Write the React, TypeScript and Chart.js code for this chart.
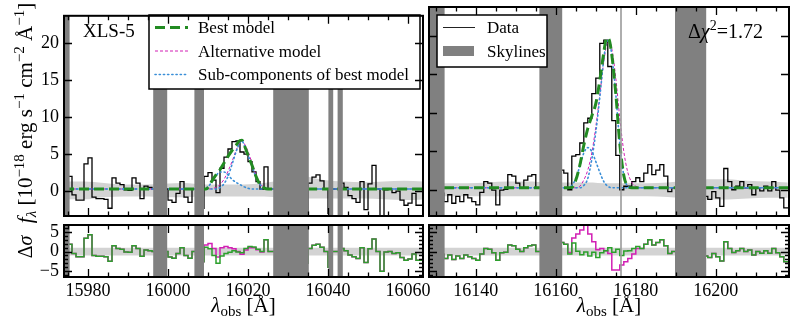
import React, { useEffect, useRef } from 'react';
import { Chart, registerables } from 'chart.js';
Chart.register(...registerables);

const FONT = '"Liberation Serif", "Times New Roman", serif';

// ---------- axes ----------
const LEFT_X_RANGE = [15974, 16063.75];
const RIGHT_X_RANGE = [16128.3, 16218.3];
const FLUX_Y_RANGE = [-3.35, 23.7];
const RESID_Y_RANGE = [-6.5, 6.8];
const X_LABEL_STEP = 20;
const X_MINOR_STEP = 5;
const Y_MAJOR_STEP = 5;
const Y_RESID_MINOR_STEP = 1;

// ---------- data (1 Å bins, left edges) ----------
const BIN_WIDTH = 1;
const LEFT_BIN_START = 15974;
const RIGHT_BIN_START = 16128;

const LEFT_FLUX = [
  0.2, 0.2, 2.0, -0.5, -1.2, -1.2, 3.7, 4.5, -0.8, -1.0,
  -1.0, -1.1, -2.3, 1.8, 1.1, 0.9, 0.2, 0.1, 1.8, 1.1,
  -1.0, 0.7, 0.5, 0.3, 0.3, 0.3, 0.3, -1.2, -1.5, -0.3,
  1.3, -0.8, -1.5, 0.3, 0.3, -2.3, 2.0, 2.5, 1.5, -0.2,
  3.1, 4.6, 5.7, 6.7, 6.8, 5.3, 5.0, 4.0, 2.6, 1.3,
  0.3, 3.3, 0.3, 0.3, 0.3, 0.3, 0.3, 0.3, 0.3, 0.3,
  0.3, -2.8, 1.1, 1.9, 2.2, 1.4, 0.3, -3.0, 0.3, 0.3,
  1.1, 0.5, -0.6, -1.0, -1.5, 1.3, -2.5, 1.0, 3.5, 0.3,
  -4.5, 0.2, 0.3, -0.2, 0.0, -1.2, -1.9, -1.6, -0.3, -1.9,
];

const RIGHT_FLUX = [
  0.3, 0.3, 0.3, 0.3, -0.4, -1.5, -0.6, -1.7, -0.8, -1.5,
  -0.6, -1.0, -1.5, -1.9, -0.3, 1.1, 0.9, 0.0, -1.9, 0.0,
  0.1, 2.0, 1.8, 0.9, 0.3, 1.3, 1.8, 2.0, 0.3, 0.3,
  0.3, 0.3, 0.3, 0.3, 2.6, 2.2, 0.05, 4.4, 4.6, 6.1,
  8.7, 9.3, 12.5, 14.5, 19.0, 19.4, 16.0, 9.0, 4.5, 0.05,
  0.5, 0.5, 1.1, 1.6, 1.1, 2.2, 3.3, 2.0, 2.6, 3.3,
  1.8, -0.2, 0.3, 0.3, 0.3, 0.3, 0.3, 0.3, 0.3, 0.3,
  -0.8, -1.2, -0.2, -1.0, -2.1, 2.8, 1.1, 0.05, 0.5, 1.1,
  0.3, 0.7, -0.6, 0.3, -0.1, 0.5, -0.1, 1.1, 0.0, -1.0,
  -2.3,
];

// residuals (Δσ) of best model, same bins
const LEFT_RESID_BEST = [
  -0.1, 0.5, 1.9, -0.5, -1.3, -1.3, 3.4, 4.3, -1.0, -1.2,
  -1.2, -1.3, -2.5, 1.5, 0.8, 0.6, -0.1, -0.2, 1.5, 0.8,
  -1.2, 0.4, 0.2, 0, 0, 0, 0.0, -1.4, -1.7, -0.5,
  1.0, -1.0, -1.7, 0, 0, -2.6, 1.1, 0.7, -1.0, -3.0,
  -1.1, -0.5, -0.2, 0.2, -0.1, -0.3, 0.8, 1.3, 1.2, 0.6,
  0.0, 3.0, 0, 0, 0, 0, 0, 0, 0, 0,
  0, -3.0, 0.8, 1.6, 1.9, 1.1, 0, -4.0, 0, 0,
  0.8, 0.2, -0.9, -1.3, -1.8, 1.0, -2.8, 0.7, 3.2, 0.0,
  -5.0, -0.1, 0.0, -0.5, -0.3, -1.5, -2.2, -1.9, -0.6, -2.2,
];

const RIGHT_RESID_BEST = [
  0, 0, 0, 0, -0.7, -1.8, -0.9, -2.0, -1.1, -1.8,
  -0.9, -1.3, -1.8, -2.2, -0.6, 0.8, 0.6, -0.3, -2.2, -0.3,
  -0.2, 1.7, 1.5, 0.6, 0.0, 1.0, 1.5, 1.7, 0, 0,
  0, 0, 0, 0, 2.3, 1.9, -0.6, 2.2, 0.1, -0.8,
  -0.1, -1.1, -0.2, -1.5, -0.3, 0.2, 1.0, -0.2, 0.6, -1.0,
  0.15, 0.2, 0.8, 1.3, 0.8, 1.9, 3.0, 1.7, 2.3, 3.0,
  1.5, -0.5, 0, 0, 0, 0, 0, 0, 0, 0,
  -1.1, -1.5, -0.5, -1.3, -2.4, 2.5, 0.8, -0.25, 0.2, 0.8,
  0.0, 0.4, -0.9, 0.0, -0.4, 0.2, -0.4, 0.8, -0.3, -1.3,
  -2.6,
];

// residuals of alternative model where they differ from the best-model residuals
const LEFT_RESID_ALT_FROM = 16010;
const LEFT_RESID_ALT = [1.7, 2.1, 0.8, -1.4, 1.0, 1.3, 1.0, 0.7, 0.0, -0.7, 0.4, 1.0, 1.0, 0.5, -0.1];
const RIGHT_RESID_ALT_FROM = 16164;
const RIGHT_RESID_ALT = [-0.25, 3.5, 4.5, 5.5, 6.8, 4.5, 2.5, 0.5, 0.8, 0.2, -0.5, -4.7, -4.7, -3.4, -2.6, -1.8, -0.6, 0.8];

// ---------- models ----------
const LEFT_BEST_X = [15974, 16009.5, 16010, 16011, 16012, 16013, 16014, 16015, 16016, 16017, 16018, 16018.5, 16019, 16020, 16021, 16022, 16023, 16024, 16025, 16064];
const LEFT_BEST_Y = [0.3, 0.3, 0.5, 1.4, 2.2, 2.9, 3.8, 4.7, 5.5, 6.2, 6.85, 6.9, 6.3, 4.9, 3.5, 2.0, 0.9, 0.45, 0.3, 0.3];
const LEFT_ALT_X = [15974, 16010.5, 16011, 16012, 16013, 16014, 16015, 16016, 16017, 16018, 16018.5, 16019, 16020, 16021, 16022, 16023, 16024, 16025, 16064];
const LEFT_ALT_Y = [0.3, 0.3, 0.35, 0.5, 0.9, 1.6, 2.7, 4.0, 5.5, 6.6, 6.8, 6.5, 5.4, 3.8, 2.2, 1.1, 0.5, 0.3, 0.3];
const LEFT_COMP1_X = [15974, 16012, 16013, 16014, 16015, 16016, 16017, 16018, 16018.5, 16019, 16020, 16021, 16022, 16023, 16024, 16025, 16064];
const LEFT_COMP1_Y = [0.3, 0.3, 0.5, 1.0, 2.0, 3.6, 5.3, 6.6, 6.8, 6.3, 4.9, 3.4, 1.9, 0.9, 0.45, 0.3, 0.3];
const LEFT_COMP2_X = [15974, 16009, 16010, 16011, 16012, 16013, 16014, 16015, 16016, 16017, 16018, 16019, 16020, 16021, 16064];
const LEFT_COMP2_Y = [0.3, 0.3, 0.6, 1.3, 2.1, 2.6, 2.6, 2.2, 1.6, 1.2, 0.9, 0.6, 0.4, 0.3, 0.3];

const RIGHT_BEST_X = [16128.3, 16163, 16164, 16165, 16166, 16167, 16168, 16169, 16170, 16171, 16172, 16172.7, 16173.3, 16174, 16175, 16176, 16177, 16178, 16179, 16218.3];
const RIGHT_BEST_Y = [0.3, 0.3, 0.35, 1.3, 3.2, 5.8, 8.0, 9.6, 11.2, 14.2, 17.8, 19.7, 19.5, 17.5, 12.5, 6.0, 1.9, 0.5, 0.3, 0.3];
const RIGHT_ALT_X = [16128.3, 16165, 16166, 16167, 16168, 16169, 16170, 16171, 16172, 16173, 16173.3, 16174, 16175, 16176, 16177, 16178, 16179, 16180, 16181, 16218.3];
const RIGHT_ALT_Y = [0.3, 0.3, 0.5, 1.3, 2.6, 4.8, 8.2, 12.3, 16.6, 19.3, 19.35, 18.3, 14.5, 9.3, 5.0, 2.3, 1.0, 0.5, 0.3, 0.3];
const RIGHT_COMP1_X = [16128.3, 16166, 16167, 16168, 16169, 16170, 16171, 16172, 16172.7, 16173.3, 16174, 16175, 16176, 16177, 16178, 16179, 16218.3];
const RIGHT_COMP1_Y = [0.3, 0.3, 0.6, 1.5, 4.0, 7.5, 12.0, 17.0, 19.2, 19.4, 17.4, 12.4, 6.0, 1.9, 0.5, 0.3, 0.3];
const RIGHT_COMP2_X = [16128.3, 16163, 16164, 16165, 16166, 16167, 16168, 16169, 16170, 16171, 16172, 16173, 16174, 16218.3];
const RIGHT_COMP2_Y = [0.3, 0.3, 0.6, 1.5, 3.1, 4.8, 5.5, 5.0, 3.7, 2.3, 1.1, 0.5, 0.3, 0.3];

// ---------- noise envelopes ----------
const LEFT_NOISE_X = [15974, 15979, 15984, 15989, 15994, 15999, 16004, 16009, 16014, 16019, 16024, 16029, 16034, 16039, 16044, 16049, 16054, 16059, 16064];
const LEFT_NOISE_HI = [1.3, 1.3, 1.1, 0.9, 0.9, 1.0, 1.1, 0.9, 0.9, 0.9, 1.1, 1.5, 2.0, 1.5, 1.3, 1.2, 1.3, 1.4, 1.3];
const LEFT_NOISE_LO = [-1.1, -1.1, -0.8, -0.7, -0.7, -0.8, -0.8, -0.7, -0.7, -0.7, -0.7, -0.9, -1.0, -1.0, -1.0, -1.0, -1.1, -1.2, -1.1];
const RIGHT_NOISE_X = [16128, 16133, 16138, 16143, 16148, 16153, 16158, 16163, 16168, 16173, 16178, 16183, 16188, 16193, 16198, 16203, 16208, 16213, 16218];
const RIGHT_NOISE_HI = [0.9, 0.9, 0.9, 1.0, 1.1, 1.1, 1.0, 1.0, 1.0, 0.9, 0.9, 0.9, 1.0, 1.2, 1.4, 1.4, 1.2, 1.1, 1.0];
const RIGHT_NOISE_LO = [-0.8, -0.8, -0.8, -0.8, -0.8, -0.8, -0.8, -0.8, -0.8, -0.8, -0.8, -0.8, -0.9, -1.1, -1.2, -1.2, -1.1, -1.0, -1.0];
const RESID_BAND = [-1, 1];

// ---------- skylines ----------
const LEFT_SKYLINES = [[15973.5, 15975.4], [15996.3, 15999.8], [16006.6, 16009.0], [16026.3, 16035.2], [16040.1, 16041.3], [16042.4, 16043.7]];
const RIGHT_SKYLINES = [[16127.5, 16132.2], [16155.9, 16161.6], [16189.8, 16197.6]];
const RIGHT_THIN_SKYLINES = [16176.3];

// ---------- text ----------
const LEGEND_LEFT = ['Best model', 'Alternative model', 'Sub-components of best model'];
const LEGEND_RIGHT = ['Data', 'Skylines'];
const OBJECT_NAME = 'XLS-5';
const DELTA_CHI2 = '1.72';

// ---------- colours ----------
const SKY = '#808080';
const THIN_SKY = '#9a9a9a';
const NOISE = '#d3d3d3';
const GREEN = '#228b22';
const MAGENTA = '#d21fb4';
const BLUE = '#3a8fd8';
const RES_GREEN = '#2ca02c';

type Seg = { t: string; size: number; italic?: boolean; dy?: number };
const fontOf = (s: Seg) => `${s.italic ? 'italic ' : ''}${s.size}px ${FONT}`;

function drawRich(ctx: CanvasRenderingContext2D, segs: Seg[], x: number, y: number, align: 'left' | 'center', rot = 0) {
  ctx.save();
  ctx.translate(x, y);
  if (rot) ctx.rotate(rot);
  ctx.textBaseline = 'alphabetic';
  ctx.textAlign = 'left';
  ctx.fillStyle = '#000';
  let w = 0;
  for (const s of segs) { ctx.font = fontOf(s); w += ctx.measureText(s.t).width; }
  let cx = align === 'center' ? -w / 2 : 0;
  for (const s of segs) {
    ctx.font = fontOf(s);
    ctx.fillText(s.t, cx, s.dy || 0);
    cx += ctx.measureText(s.t).width;
  }
  ctx.restore();
}

function sampleLine(ctx: CanvasRenderingContext2D, x0: number, x1: number, y: number, color: string, width: number, dash: number[], cap: CanvasLineCap = 'butt') {
  ctx.save();
  ctx.strokeStyle = color; ctx.lineWidth = width; ctx.setLineDash(dash); ctx.lineCap = cap;
  ctx.beginPath(); ctx.moveTo(x0, y); ctx.lineTo(x1, y); ctx.stroke();
  ctx.restore();
}

function legendBox(ctx: CanvasRenderingContext2D, x: number, y: number, w: number, h: number) {
  ctx.save();
  ctx.fillStyle = '#fff'; ctx.fillRect(x, y, w, h);
  ctx.strokeStyle = '#000'; ctx.lineWidth = 1.5; ctx.strokeRect(x, y, w, h);
  ctx.restore();
}

function legendText(ctx: CanvasRenderingContext2D, t: string, x: number, y: number) {
  ctx.save();
  ctx.font = `17px ${FONT}`; ctx.fillStyle = '#000'; ctx.textBaseline = 'alphabetic'; ctx.textAlign = 'left';
  ctx.fillText(t, x, y);
  ctx.restore();
}

interface PanelSpec {
  skylines: number[][];
  thin: number[];
  yMinor?: number;
  decor?: (ctx: CanvasRenderingContext2D, chart: any) => void;
}

function panelPlugin(p: PanelSpec) {
  return {
    id: 'panelDecor',
    afterDatasetsDraw(chart: any) {
      const { ctx, chartArea: a } = chart;
      const xs = chart.scales.x;
      ctx.save();
      ctx.beginPath(); ctx.rect(a.left, a.top, a.right - a.left, a.bottom - a.top); ctx.clip();
      ctx.fillStyle = SKY;
      for (const [l, r] of p.skylines) {
        const x0 = xs.getPixelForValue(l), x1 = xs.getPixelForValue(r);
        ctx.fillRect(x0, a.top, x1 - x0, a.bottom - a.top);
      }
      ctx.strokeStyle = THIN_SKY; ctx.lineWidth = 1.6;
      for (const v of p.thin) {
        const px = xs.getPixelForValue(v);
        ctx.beginPath(); ctx.moveTo(px, a.top); ctx.lineTo(px, a.bottom); ctx.stroke();
      }
      ctx.restore();
    },
    afterDraw(chart: any) {
      const { ctx, chartArea: a } = chart;
      const xs = chart.scales.x, ys = chart.scales.y;
      if (p.decor) p.decor(ctx, chart);
      ctx.save();
      ctx.strokeStyle = '#000';
      ctx.lineWidth = 1.3;
      ctx.beginPath();
      for (let v = Math.ceil(xs.min / X_MINOR_STEP) * X_MINOR_STEP; v <= xs.max; v += X_MINOR_STEP) {
        const px = Math.round(xs.getPixelForValue(v)) + 0.5;
        const len = v % X_LABEL_STEP === 0 ? 8 : 4.5;
        ctx.moveTo(px, a.bottom); ctx.lineTo(px, a.bottom - len);
        ctx.moveTo(px, a.top); ctx.lineTo(px, a.top + len);
      }
      const yTick = (v: number, len: number) => {
        const py = Math.round(ys.getPixelForValue(v)) + 0.5;
        ctx.moveTo(a.left, py); ctx.lineTo(a.left + len, py);
        ctx.moveTo(a.right, py); ctx.lineTo(a.right - len, py);
      };
      for (let v = Math.ceil(ys.min / Y_MAJOR_STEP) * Y_MAJOR_STEP; v <= ys.max; v += Y_MAJOR_STEP) yTick(v, 8);
      if (p.yMinor) {
        for (let v = Math.ceil(ys.min / p.yMinor) * p.yMinor; v <= ys.max; v += p.yMinor) {
          if (Math.abs(v % Y_MAJOR_STEP) > 1e-6) yTick(v, 4);
        }
      }
      ctx.stroke();
      ctx.lineWidth = 2;
      ctx.strokeRect(a.left, a.top, a.right - a.left, a.bottom - a.top);
      ctx.restore();
    },
  };
}

const steps = (start: number, bin: number, vals: number[]) => {
  const pts = vals.map((v, i) => ({ x: start + i * bin, y: v }));
  pts.push({ x: start + vals.length * bin, y: vals[vals.length - 1] });
  return pts;
};
const xy = (xs: number[], ys: number[]) => xs.map((x, i) => ({ x, y: ys[i] }));
const withOverride = (base: number[], start: number, from: number, vals: number[]) => {
  const out = base.slice();
  vals.forEach((v, i) => { out[from - start + i] = v; });
  return out;
};
const fmt = (v: any) => (v < 0 ? '\u2212' + Math.abs(v) : String(v));

const tickFont = { family: FONT, size: 18 };

function xAxis(range: number[], show: boolean) {
  const ax: any = {
    type: 'linear', min: range[0], max: range[1], display: show,
    grid: { display: false, drawTicks: false }, border: { display: false },
    ticks: { stepSize: X_LABEL_STEP, includeBounds: false, autoSkip: false, maxRotation: 0, minRotation: 0, padding: 3, color: '#000', font: tickFont, callback: fmt },
  };
  if (show) ax.afterFit = (s: any) => { s.height = 43; };
  return ax;
}
function yAxis(range: number[], show: boolean) {
  const ax: any = {
    type: 'linear', min: range[0], max: range[1], display: show,
    grid: { display: false, drawTicks: false }, border: { display: false },
    ticks: { stepSize: Y_MAJOR_STEP, includeBounds: false, autoSkip: false, padding: 5, color: '#000', font: tickFont, callback: fmt },
  };
  if (show) ax.afterFit = (s: any) => { s.width = 50; };
  return ax;
}

const lineDs = (label: string, data: any[], color: string, width: number, dash: number[], extra: any = {}) => ({
  label, data, borderColor: color, borderWidth: width, borderDash: dash, pointRadius: 0, fill: false, ...extra,
});

function topDatasets(side: 'L' | 'R') {
  const L = side === 'L';
  const smooth = { cubicInterpolationMode: 'monotone' };
  return [
    lineDs('Best model', xy(L ? LEFT_BEST_X : RIGHT_BEST_X, L ? LEFT_BEST_Y : RIGHT_BEST_Y), GREEN, 3, [10, 5], smooth),
    lineDs('Sub-component 1', xy(L ? LEFT_COMP1_X : RIGHT_COMP1_X, L ? LEFT_COMP1_Y : RIGHT_COMP1_Y), BLUE, 1.6, [1.2, 3], { ...smooth, borderCapStyle: 'round' }),
    lineDs('Sub-component 2', xy(L ? LEFT_COMP2_X : RIGHT_COMP2_X, L ? LEFT_COMP2_Y : RIGHT_COMP2_Y), BLUE, 1.6, [1.2, 3], { ...smooth, borderCapStyle: 'round' }),
    lineDs('Alternative model', xy(L ? LEFT_ALT_X : RIGHT_ALT_X, L ? LEFT_ALT_Y : RIGHT_ALT_Y), MAGENTA, 1, [3, 2], smooth),
    lineDs('Data', steps(L ? LEFT_BIN_START : RIGHT_BIN_START, BIN_WIDTH, L ? LEFT_FLUX : RIGHT_FLUX), '#000', 1.3, [], { stepped: 'after' }),
    lineDs('Noise hi', xy(L ? LEFT_NOISE_X : RIGHT_NOISE_X, L ? LEFT_NOISE_HI : RIGHT_NOISE_HI), 'rgba(0,0,0,0)', 0, [], { ...smooth, fill: '+1', backgroundColor: NOISE }),
    lineDs('Noise lo', xy(L ? LEFT_NOISE_X : RIGHT_NOISE_X, L ? LEFT_NOISE_LO : RIGHT_NOISE_LO), 'rgba(0,0,0,0)', 0, [], smooth),
  ];
}

function residDatasets(side: 'L' | 'R') {
  const L = side === 'L';
  const start = L ? LEFT_BIN_START : RIGHT_BIN_START;
  const best = L ? LEFT_RESID_BEST : RIGHT_RESID_BEST;
  const alt = withOverride(best, start, L ? LEFT_RESID_ALT_FROM : RIGHT_RESID_ALT_FROM, L ? LEFT_RESID_ALT : RIGHT_RESID_ALT);
  const range = L ? LEFT_X_RANGE : RIGHT_X_RANGE;
  return [
    lineDs('Best residual', steps(start, BIN_WIDTH, best), RES_GREEN, 1.5, [], { stepped: 'after' }),
    lineDs('Alternative residual', steps(start, BIN_WIDTH, alt), MAGENTA, 1.5, [], { stepped: 'after' }),
    lineDs('Band hi', [{ x: range[0], y: RESID_BAND[1] }, { x: range[1], y: RESID_BAND[1] }], 'rgba(0,0,0,0)', 0, [], { fill: '+1', backgroundColor: NOISE }),
    lineDs('Band lo', [{ x: range[0], y: RESID_BAND[0] }, { x: range[1], y: RESID_BAND[0] }], 'rgba(0,0,0,0)', 0, []),
  ];
}

function baseOptions(padding: any, x: any, y: any) {
  return {
    responsive: false, animation: false as const, events: [] as any[], devicePixelRatio: 1,
    layout: { padding },
    plugins: { legend: { display: false }, tooltip: { enabled: false }, title: { display: false } },
    elements: { point: { radius: 0 }, line: { tension: 0 } },
    scales: { x, y },
  };
}

const xTitle = (ctx: CanvasRenderingContext2D, cx: number) =>
  drawRich(ctx, [{ t: 'λ', size: 21, italic: true }, { t: 'obs', size: 15, dy: 4 }, { t: ' [Å]', size: 21 }], cx, 312, 'center');

function configs() {
  const leftTop = {
    type: 'line',
    data: { datasets: topDatasets('L') },
    options: baseOptions({ left: 14, right: 373, top: 7, bottom: 104 }, xAxis(LEFT_X_RANGE, false), yAxis(FLUX_Y_RANGE, true)),
    plugins: [panelPlugin({
      skylines: LEFT_SKYLINES, thin: [],
      decor: (ctx) => {
        legendBox(ctx, 149, 15, 271, 74);
        sampleLine(ctx, 155, 188, 27.5, GREEN, 3, [10, 5]);
        sampleLine(ctx, 155, 188, 51, MAGENTA, 1, [3, 2]);
        sampleLine(ctx, 155, 188, 74.5, BLUE, 1.6, [1.2, 3], 'round');
        legendText(ctx, LEGEND_LEFT[0], 198, 33);
        legendText(ctx, LEGEND_LEFT[1], 198, 56.5);
        legendText(ctx, LEGEND_LEFT[2], 198, 80);
        drawRich(ctx, [{ t: OBJECT_NAME, size: 19 }], 83, 37, 'left');
        drawRich(ctx, [
          { t: 'f', size: 21, italic: true }, { t: 'λ', size: 15, italic: true, dy: 4 },
          { t: ' [10', size: 21 }, { t: '\u221218', size: 15, dy: -8 },
          { t: ' erg s', size: 21 }, { t: '\u22121', size: 15, dy: -8 },
          { t: ' cm', size: 21 }, { t: '\u22122', size: 15, dy: -8 },
          { t: ' Å', size: 21 }, { t: '\u22121', size: 15, dy: -8 }, { t: ']', size: 21 },
        ], 32, 113, 'center', -Math.PI / 2);
      },
    })],
  };
  const rightTop = {
    type: 'line',
    data: { datasets: topDatasets('R') },
    options: baseOptions({ left: 429, right: 7, top: 7, bottom: 104 }, xAxis(RIGHT_X_RANGE, false), yAxis(FLUX_Y_RANGE, false)),
    plugins: [panelPlugin({
      skylines: RIGHT_SKYLINES, thin: RIGHT_THIN_SKYLINES,
      decor: (ctx) => {
        legendBox(ctx, 437, 15, 110, 52);
        sampleLine(ctx, 443, 475, 27.5, '#222', 1, []);
        ctx.save(); ctx.fillStyle = SKY; ctx.fillRect(443, 46, 31, 10); ctx.restore();
        legendText(ctx, LEGEND_RIGHT[0], 487, 33);
        legendText(ctx, LEGEND_RIGHT[1], 487, 56.5);
        drawRich(ctx, [{ t: 'Δ', size: 20 }, { t: 'χ', size: 20, italic: true }, { t: '2', size: 14, dy: -8 }, { t: '=' + DELTA_CHI2, size: 20 }], 688, 38, 'left');
      },
    })],
  };
  const leftBottom = {
    type: 'line',
    data: { datasets: residDatasets('L') },
    options: baseOptions({ left: 14, right: 373, top: 225, bottom: 0 }, xAxis(LEFT_X_RANGE, true), yAxis(RESID_Y_RANGE, true)),
    plugins: [panelPlugin({
      skylines: LEFT_SKYLINES, thin: [], yMinor: Y_RESID_MINOR_STEP,
      decor: (ctx) => {
        xTitle(ctx, 243.5);
        drawRich(ctx, [{ t: 'Δ', size: 20 }, { t: 'σ', size: 20, italic: true }], 32, 247, 'center', -Math.PI / 2);
      },
    })],
  };
  const rightBottom = {
    type: 'line',
    data: { datasets: residDatasets('R') },
    options: baseOptions({ left: 429, right: 7, top: 225, bottom: 0 }, xAxis(RIGHT_X_RANGE, true), yAxis(RESID_Y_RANGE, false)),
    plugins: [panelPlugin({
      skylines: RIGHT_SKYLINES, thin: RIGHT_THIN_SKYLINES, yMinor: Y_RESID_MINOR_STEP,
      decor: (ctx) => { xTitle(ctx, 609); },
    })],
  };
  return [leftTop, rightTop, leftBottom, rightBottom];
}

export default function App() {
  const r0 = useRef<HTMLCanvasElement>(null);
  const r1 = useRef<HTMLCanvasElement>(null);
  const r2 = useRef<HTMLCanvasElement>(null);
  const r3 = useRef<HTMLCanvasElement>(null);
  useEffect(() => {
    Chart.defaults.font.family = FONT;
    Chart.defaults.color = '#000';
    const refs = [r0, r1, r2, r3];
    const cfgs = configs();
    const charts = cfgs.map((cfg, i) => new Chart(refs[i].current as HTMLCanvasElement, cfg as any));
    return () => charts.forEach((c) => c.destroy());
  }, []);
  const st: React.CSSProperties = { position: 'absolute', left: 0, top: 0, width: 796, height: 320 };
  return (
    <div style={{ position: 'fixed', left: 0, top: 0, width: 796, height: 320, background: '#fff', overflow: 'hidden' }}>
      <canvas ref={r0} width={796} height={320} style={st} />
      <canvas ref={r1} width={796} height={320} style={st} />
      <canvas ref={r2} width={796} height={320} style={st} />
      <canvas ref={r3} width={796} height={320} style={st} />
    </div>
  );
}
